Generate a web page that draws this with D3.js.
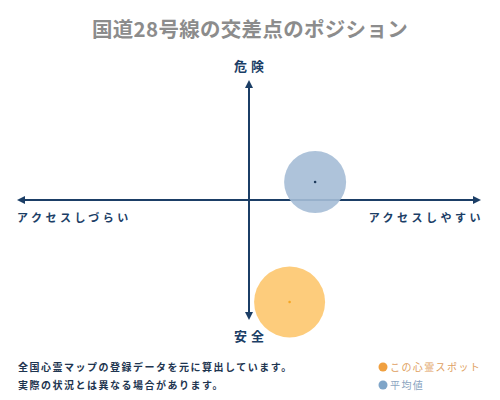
<!DOCTYPE html>
<html>
<head>
<meta charset="utf-8">
<script src="https://cdn.jsdelivr.net/npm/d3@7"></script>
<style>
  body { margin: 0; background: #fff; }
  svg { display: block; font-family: "Noto Sans CJK JP", "DejaVu Serif", serif; }
</style>
</head>
<body>
<svg id="chart" width="500" height="400"></svg>
<script>
// chart data
const titleText = "国道28号線の交差点のポジション";
const axisLabels = ["危険", "安全", "アクセスしづらい", "アクセスしやすい"];
const pointNames = ["平均値", "この心霊スポット"];
const pointX = [28.5, 17.5];     // access (-100..100)
const pointY = [15, -85];        // danger (-100..100)
const pointSize = [31, 35.5];
const pointColors = ["#a5bcd6", "#fdc76e"];
const dotColors = ["#1e3a5c", "#f5a623"];
const noteLines = ["全国心霊マップの登録データを元に算出しています。", "実際の状況とは異なる場合があります。"];
const legendNames = ["この心霊スポット", "平均値"];
const legendColors = ["#f0a040", "#7fa5c8"];
const legendTextColors = ["#e0a060", "#8aa4c0"];

const navy = "#1b3e66";
const svg = d3.select("#chart");

//scales
const x = d3.scaleLinear().domain([-100, 100]).range([17, 481]);
const y = d3.scaleLinear().domain([-100, 100]).range([320, 80]);

//title
svg.append("text")
  .attr("x", 250).attr("y", 37)
  .attr("text-anchor", "middle")
  .style("font-size", "20.5px")
  .style("font-weight", "bold")
  .style("letter-spacing", "0.3px")
  .style("fill", "#8c8c8c")
  .text(titleText);

//axes with arrows
const defs = svg.append("defs");
defs.append("marker")
  .attr("id", "arrow")
  .attr("viewBox", "0 0 10 10")
  .attr("refX", 5).attr("refY", 5)
  .attr("markerWidth", 4).attr("markerHeight", 4)
  .attr("orient", "auto-start-reverse")
  .append("path")
    .attr("d", "M0,0 L10,5 L0,10 z")
    .attr("fill", navy);

svg.append("line")
  .attr("x1", x(-100) + 4).attr("x2", x(100) - 4)
  .attr("y1", y(0)).attr("y2", y(0))
  .attr("stroke", navy).attr("stroke-width", 2)
  .attr("marker-start", "url(#arrow)")
  .attr("marker-end", "url(#arrow)");

svg.append("line")
  .attr("x1", x(0)).attr("x2", x(0))
  .attr("y1", y(100) + 4).attr("y2", y(-100) - 4)
  .attr("stroke", navy).attr("stroke-width", 2)
  .attr("marker-start", "url(#arrow)")
  .attr("marker-end", "url(#arrow)");

//axis labels
const lab = svg.append("g")
  .style("fill", navy)
  .style("font-weight", "bold");

lab.append("text")
  .attr("x", x(0) + 2).attr("y", y(100) - 9)
  .attr("text-anchor", "middle")
  .style("font-size", "13px")
  .style("letter-spacing", "4px")
  .text(axisLabels[0]);

lab.append("text")
  .attr("x", x(0) + 2).attr("y", y(-100) + 21)
  .attr("text-anchor", "middle")
  .style("font-size", "13px")
  .style("letter-spacing", "4px")
  .text(axisLabels[1]);

lab.append("text")
  .attr("x", x(-100)).attr("y", y(0) + 22)
  .style("font-size", "11px")
  .style("letter-spacing", "3.5px")
  .text(axisLabels[2]);

lab.append("text")
  .attr("x", x(100) + 3).attr("y", y(0) + 22)
  .attr("text-anchor", "end")
  .style("font-size", "11px")
  .style("letter-spacing", "3.5px")
  .text(axisLabels[3]);

//points
const pts = pointNames.map((n, i) => ({name: n, x: pointX[i], y: pointY[i], r: pointSize[i], c: pointColors[i], d: dotColors[i]}));

svg.selectAll("circle.pt")
  .data(pts)
  .enter().append("circle")
    .attr("class", "pt")
    .attr("cx", d => x(d.x))
    .attr("cy", d => y(d.y))
    .attr("r", d => d.r)
    .attr("fill", d => d.c)
    .attr("fill-opacity", 0.9);

svg.selectAll("circle.dot")
  .data(pts)
  .enter().append("circle")
    .attr("class", "dot")
    .attr("cx", d => x(d.x))
    .attr("cy", d => y(d.y))
    .attr("r", 1.3)
    .attr("fill", d => d.d);

//notes
svg.selectAll("text.note")
  .data(noteLines)
  .enter().append("text")
    .attr("class", "note")
    .attr("x", 18)
    .attr("y", (d, i) => 371 + i * 18)
    .style("font-size", "10px")
    .style("font-weight", "bold")
    .style("letter-spacing", "1.5px")
    .style("fill", "#1e3550")
    .text(d => d);

//legend
const leg = svg.selectAll("g.leg")
  .data(legendNames)
  .enter().append("g")
    .attr("class", "leg")
    .attr("transform", (d, i) => "translate(383," + (367 + i * 18) + ")");

leg.append("circle")
  .attr("r", 4.5)
  .attr("fill", (d, i) => legendColors[i]);

leg.append("text")
  .attr("x", 7).attr("y", 4)
  .style("font-size", "10px")
  .style("letter-spacing", "1.4px")
  .style("fill", (d, i) => legendTextColors[i])
  .text(d => d);
</script>
</body>
</html>
